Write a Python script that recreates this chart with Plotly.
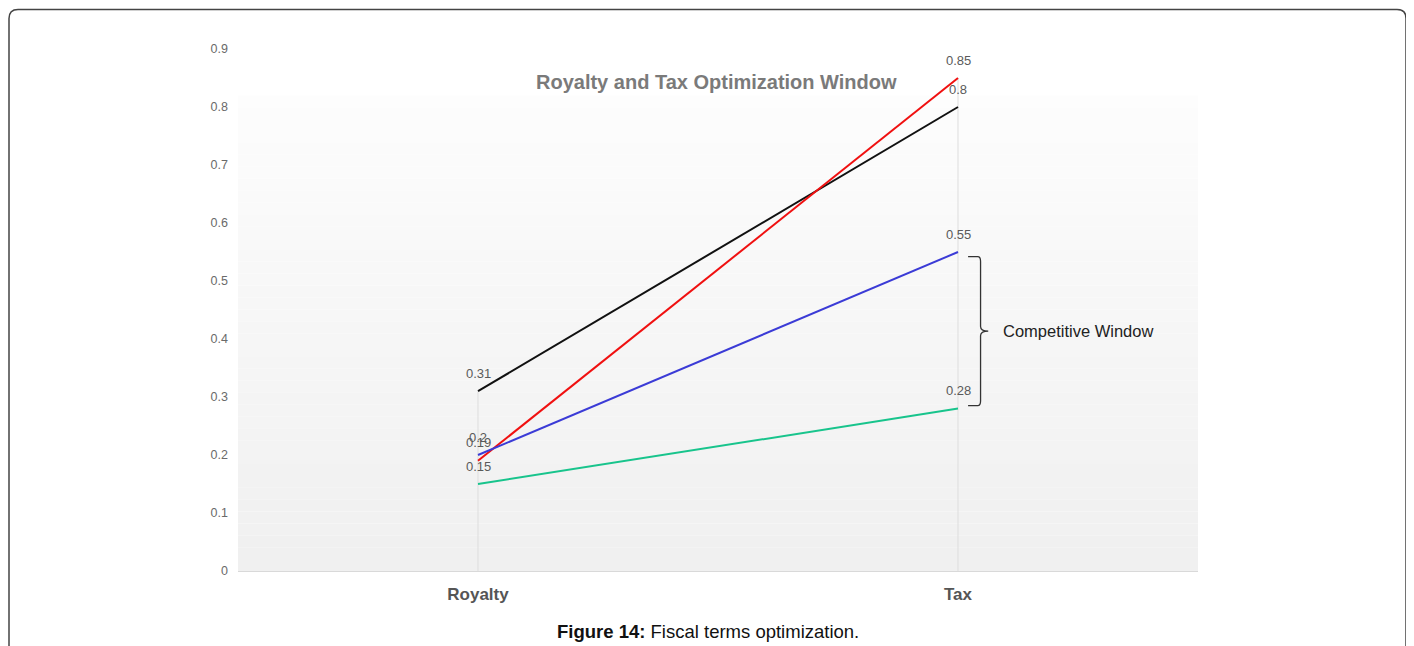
import plotly.graph_objects as go

# ---- data ------------------------------------------------------------------
categories = ["Royalty", "Tax"]
black_vals = [0.31, 0.8]
red_vals = [0.19, 0.85]
blue_vals = [0.2, 0.55]
green_vals = [0.15, 0.28]
y_ticks = [0, 0.1, 0.2, 0.3, 0.4, 0.5, 0.6, 0.7, 0.8, 0.9]
y_tick_text = ["0", "0.1", "0.2", "0.3", "0.4", "0.5", "0.6", "0.7", "0.8", "0.9"]

series = [
    ("black", black_vals, "#111111"),
    ("red", red_vals, "#f01010"),
    ("blue", blue_vals, "#3b3bd6"),
    ("green", green_vals, "#18c48c"),
]

# the page body adds an 8px offset, so the figure is laid out 8px up/left
OFF = 8
W, H = 1414 - OFF, 646 - OFF
L, R, T, B = 238 - OFF, 216, 49 - OFF, 75
FONT = "Liberation Sans, Arial, sans-serif"
pw, ph = W - L - R, H - T - B


def px(x):
    # screen pixel x -> paper fraction
    return (x - OFF - L) / pw


def py(y):
    # screen pixel y -> paper fraction
    return (H - B - (y - OFF)) / ph


fig = go.Figure()

# drop lines from the highest value at each category down to zero
tops = [max(v[i] for _, v, _ in series) for i in range(len(categories))]
for cat, top in zip(categories, tops):
    fig.add_trace(go.Scatter(
        x=[cat, cat], y=[0, top], mode="lines",
        line=dict(color="#dddddd", width=1), hoverinfo="skip", showlegend=False,
    ))

for name, vals, color in series:
    fig.add_trace(go.Scatter(
        x=categories, y=vals, name=name, mode="lines",
        line=dict(color=color, width=2), showlegend=False,
    ))
    for cat, v in zip(categories, vals):
        fig.add_annotation(
            x=cat, y=v, text=str(v), showarrow=False, yshift=18,
            font=dict(family=FONT, size=13, color="#5a5a5a"),
        )

# soft vertical gradient in the plot area (white top -> light grey bottom)
n_bands = 40
g_top = 0.82
for i in range(n_bands):
    y0 = g_top * i / n_bands
    y1 = g_top * (i + 1) / n_bands
    t = i / (n_bands - 1)
    c = int(240 + (253 - 240) * t)
    fig.add_shape(
        type="rect", xref="x domain", yref="y", x0=0, x1=1, y0=y0, y1=y1,
        fillcolor="rgb(%d,%d,%d)" % (c, c, c), line_width=0, layer="below",
    )

# bracket for the competitive window (between blue and green Tax values)
yt, yb = blue_vals[1] - 0.008, green_vals[1] + 0.005
ym = (yt + yb) / 2
xa, xb, xc = 0.7605, 0.7735, 0.7815
r = 0.008
path = (
    f"M {xa},{yt} L {xb - 0.003},{yt} Q {xb},{yt} {xb},{yt - r} "
    f"L {xb},{ym + r} Q {xb},{ym} {xc},{ym} "
    f"Q {xb},{ym} {xb},{ym - r} L {xb},{yb + r} "
    f"Q {xb},{yb} {xb - 0.003},{yb} L {xa},{yb}"
)
fig.add_shape(type="path", xref="x domain", yref="y", path=path,
              line=dict(color="#333333", width=1.3))
fig.add_annotation(
    xref="x domain", yref="y", x=0.795, y=ym, text="Competitive Window",
    showarrow=False, xanchor="left", yanchor="middle",
    font=dict(family=FONT, size=16.5, color="#222222"),
)

# chart title inside the plot area
fig.add_annotation(
    xref="paper", yref="paper", x=px(716), y=py(82), yanchor="middle",
    text="<b>Royalty and Tax Optimization Window</b>", showarrow=False,
    font=dict(family=FONT, size=20, color="#7a7a7a"),
)

# figure caption below the chart
fig.add_annotation(
    xref="paper", yref="paper", x=px(708), y=py(631), yanchor="middle",
    text="<b>Figure 14:</b> Fiscal terms optimization.", showarrow=False,
    font=dict(family=FONT, size=18.5, color="#111111"),
)

# outer rounded frame (bottom edge runs off the page)
fx0, fx1, fy0, fy1, rr = 9, 1406, 9.5, 660, 9
frame = (
    f"M {px(fx0)},{py(fy1)} L {px(fx0)},{py(fy0 + rr)} "
    f"Q {px(fx0)},{py(fy0)} {px(fx0 + rr)},{py(fy0)} "
    f"L {px(fx1 - rr)},{py(fy0)} Q {px(fx1)},{py(fy0)} {px(fx1)},{py(fy0 + rr)} "
    f"L {px(fx1)},{py(fy1)}"
)
fig.add_shape(type="path", xref="paper", yref="paper", path=frame,
              line=dict(color="#444444", width=1.5))

fig.update_xaxes(
    type="category", range=[-0.5, 1.5], showgrid=False, zeroline=False,
    showline=True, linecolor="#d9d9d9", linewidth=1, ticks="",
    ticklabelstandoff=8,
    tickfont=dict(family=FONT, size=17, color="#555555", weight="bold"),
)
fig.update_yaxes(
    range=[0, 0.9], tickvals=y_ticks, ticktext=y_tick_text, showgrid=False,
    zeroline=False, showline=False, ticks="", ticklabelstandoff=9,
    tickfont=dict(family=FONT, size=12.5, color="#6a6a6a"),
)
fig.update_layout(
    width=W, height=H,
    margin=dict(l=L, r=R, t=T, b=B),
    paper_bgcolor="white", plot_bgcolor="white",
    showlegend=False,
)

fig.write_html("out.html")
